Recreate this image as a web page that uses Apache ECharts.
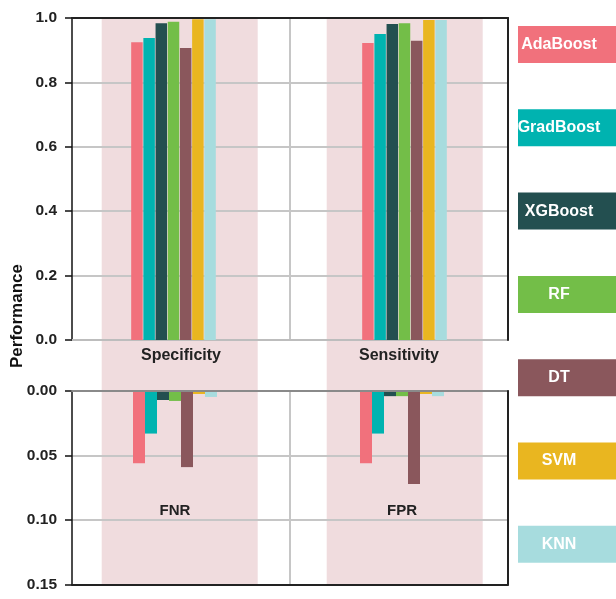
<!DOCTYPE html>
<html>
<head>
<meta charset="utf-8">
<script src="https://cdn.jsdelivr.net/npm/echarts@6/dist/echarts.min.js"></script>
<style>html,body{margin:0;padding:0;background:#fff}#c{width:616px;height:599px}</style>
</head>
<body>
<div id="c"></div>
<script>
const models = ['AdaBoost','GradBoost','XGBoost','RF','DT','SVM','KNN'];
const topCats = ['Specificity','Sensitivity'];
const bottomCats = ['FNR','FPR'];
const specificity = [0.925,0.938,0.984,0.988,0.907,0.996,0.996];
const sensitivity = [0.922,0.950,0.981,0.984,0.929,0.994,0.994];
const fnr = [0.056,0.033,0.007,0.0077,0.059,0.0023,0.0046];
const fpr = [0.056,0.033,0.004,0.004,0.072,0.0023,0.004];
const topTicks = {min:0, max:1, interval:0.2};
const bottomTicks = {min:0, max:0.15, interval:0.05};
const bandValues = [1,1];

const colors = ['#F1717C','#00B3B0','#234F50','#73BE48','#8A575C','#E9B620','#A7DCDE'];
const FONT = '"Liberation Sans", Arial, sans-serif';
const chart = echarts.init(document.getElementById('c'));

const hidden = {show:false};
const grayGrid = {show:true, lineStyle:{color:'#c6c6c6', width:2}};
const divider = {show:true, showMinLine:false, showMaxLine:false, lineStyle:{color:'#c6c6c6', width:2}};

const series = [];
series.push({type:'bar', xAxisIndex:6, yAxisIndex:6, data:bandValues, barWidth:156, z:-1, silent:true,
  itemStyle:{color:'#F0DCDE'}});
models.forEach((m,i)=>{
  series.push({name:m, type:'bar', xAxisIndex:2, yAxisIndex:2, barWidth:11.5, barGap:'6%',
    data:[specificity[i], sensitivity[i]], itemStyle:{color:colors[i]}, z:2});
});
models.forEach((m,i)=>{
  series.push({name:m, type:'bar', xAxisIndex:5, yAxisIndex:5, barWidth:12, barGap:'0%',
    data:[fnr[i], fpr[i]], itemStyle:{color:colors[i]}, z:2});
});

const rich = {};
models.forEach((m,i)=>{
  rich['k'+i] = {backgroundColor:colors[i], color:'#fff', width:82, height:37, lineHeight:37,
    padding:[0,16,0,0], align:'center', fontWeight:'bold', fontSize:16, fontFamily:FONT};
});

chart.setOption({
  animation:false,
  grid:[
    {left:72, top:18, width:436, height:322},
    {left:58, top:18, width:462, height:322},
    {left:72, top:391, width:436, height:193.5},
    {left:61.5, top:391, width:454, height:193.5},
    {left:67.2, top:18, width:450, height:566.5}
  ],
  xAxis:[
    {gridIndex:0, type:'category', data:topCats, position:'bottom', z:1,
      axisLine:{onZero:false, lineStyle:{color:'#bdbdbd', width:2}}, axisTick:hidden,
      axisLabel:{fontWeight:'bold', fontSize:16, color:'#222', fontFamily:FONT, margin:8},
      splitLine:divider},
    {gridIndex:0, type:'category', data:topCats, position:'top', z:4,
      axisLine:{onZero:false, lineStyle:{color:'#222', width:2}}, axisTick:hidden, axisLabel:hidden, splitLine:hidden},
    {gridIndex:1, type:'category', data:topCats, show:false},
    {gridIndex:2, type:'category', data:bottomCats, position:'top', z:3,
      axisLine:{onZero:false, lineStyle:{color:'#8a8a8a', width:2}}, axisTick:hidden, axisLabel:hidden, splitLine:divider},
    {gridIndex:2, type:'category', data:bottomCats, position:'bottom', z:4,
      axisLine:{onZero:false, lineStyle:{color:'#222', width:2}}, axisTick:hidden, axisLabel:hidden, splitLine:hidden},
    {gridIndex:3, type:'category', data:bottomCats, position:'top',
      axisLine:{show:false, onZero:false}, axisTick:hidden, splitLine:hidden,
      axisLabel:{inside:true, margin:112, fontWeight:'bold', fontSize:15, color:'#222', fontFamily:FONT}},
    {gridIndex:4, type:'category', data:topCats, show:false}
  ],
  yAxis:[
    {gridIndex:0, type:'value', min:topTicks.min, max:topTicks.max, interval:topTicks.interval, z:1,
      axisLine:{show:true, lineStyle:{color:'#111', width:1.5}},
      axisTick:{show:true, length:7, lineStyle:{color:'#111', width:1.5}},
      axisLabel:{formatter:v=>v.toFixed(1), fontWeight:'bold', fontSize:15.5, color:'#222', fontFamily:FONT, margin:15},
      splitLine:grayGrid},
    {gridIndex:0, type:'value', min:topTicks.min, max:topTicks.max, position:'right', z:4,
      axisLine:{show:true, lineStyle:{color:'#222', width:2}}, axisTick:hidden, axisLabel:hidden, splitLine:hidden},
    {gridIndex:1, type:'value', min:topTicks.min, max:topTicks.max, show:false},
    {gridIndex:2, type:'value', inverse:true, min:bottomTicks.min, max:bottomTicks.max, interval:bottomTicks.interval, z:1,
      axisLine:{show:true, lineStyle:{color:'#111', width:1.5}},
      axisTick:{show:true, length:7, lineStyle:{color:'#111', width:1.5}},
      axisLabel:{formatter:v=>v.toFixed(2), fontWeight:'bold', fontSize:15.5, color:'#222', fontFamily:FONT, margin:15},
      splitLine:grayGrid},
    {gridIndex:2, type:'value', inverse:true, min:bottomTicks.min, max:bottomTicks.max, position:'right', z:4,
      axisLine:{show:true, lineStyle:{color:'#222', width:2}}, axisTick:hidden, axisLabel:hidden, splitLine:hidden},
    {gridIndex:3, type:'value', inverse:true, min:bottomTicks.min, max:bottomTicks.max, show:false},
    {gridIndex:4, type:'value', min:0, max:1, show:false}
  ],
  legend:{
    data:models, orient:'vertical', left:508, top:21, itemGap:46.3, icon:'rect',
    itemWidth:0, itemHeight:0, selectedMode:false,
    formatter:name=>'{k'+models.indexOf(name)+'|'+name+'}',
    textStyle:{rich:rich}
  },
  graphic:[{type:'text', x:17, y:316, rotation:Math.PI/2,
    style:{text:'Performance', fontSize:17, fontWeight:'bold', fontFamily:FONT, fill:'#111',
      align:'center', verticalAlign:'middle'}}],
  series:series
});
</script>
</body>
</html>
